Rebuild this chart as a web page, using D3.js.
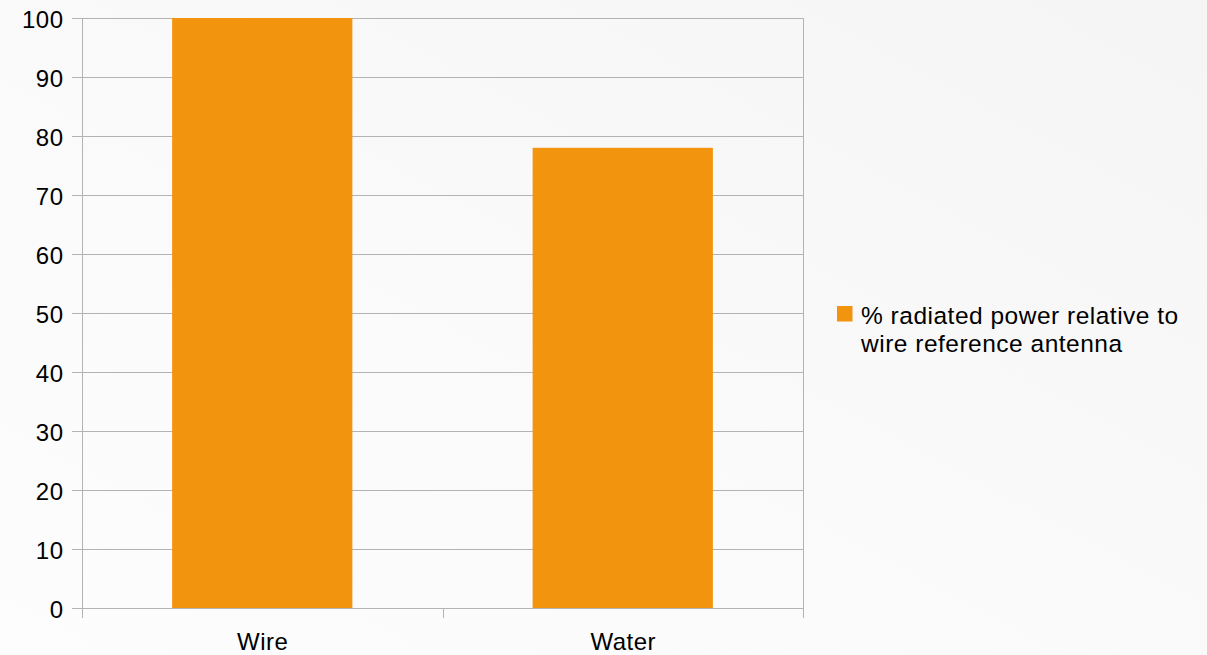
<!DOCTYPE html>
<html>
<head>
<meta charset="utf-8">
<script src="https://cdn.jsdelivr.net/npm/d3@7/dist/d3.min.js"></script>
<style>
  html, body { margin: 0; padding: 0; background: #f8f8f8; }
  svg { display: block; font-family: "Liberation Sans", Arial, sans-serif; }
  text { letter-spacing: 0.5px; }
</style>
</head>
<body>
<svg id="chart" width="1207" height="655"></svg>
<script>
// Chart data
const categories = ["Wire", "Water"];
const values = [100, 78];
const yTicks = [0, 10, 20, 30, 40, 50, 60, 70, 80, 90, 100];
const seriesName = ["% radiated power relative to", "wire reference antenna"];

const W = 1207, H = 655;
const margin = { left: 82, right: 404, top: 18, bottom: 47 };
const innerW = W - margin.left - margin.right;
const innerH = H - margin.top - margin.bottom;
const fontSize = 24;

const svg = d3.select("#chart");

// Soft background wash
const defs = svg.append("defs");
const grad = defs.append("linearGradient").attr("id", "bg")
  .attr("x1", "0%").attr("y1", "100%").attr("x2", "100%").attr("y2", "0%");
grad.append("stop").attr("offset", "0%").attr("stop-color", "#fdfdfd");
grad.append("stop").attr("offset", "45%").attr("stop-color", "#fafafa");
grad.append("stop").attr("offset", "100%").attr("stop-color", "#f5f5f5");
svg.append("rect").attr("width", W).attr("height", H).attr("fill", "url(#bg)");

const g = svg.append("g").attr("transform", `translate(${margin.left},${margin.top})`);

const x = d3.scaleBand().domain(categories).range([0, innerW]).paddingInner(0.5).paddingOuter(0.25);
const xb = d3.scaleBand().domain(categories).range([0, innerW]);
const y = d3.scaleLinear().domain([0, 100]).range([innerH, 0]);

const gridColor = "#b3b3b3";

// Horizontal gridlines
g.selectAll(".grid").data(yTicks).enter().append("line")
  .attr("x1", 0).attr("x2", innerW)
  .attr("y1", d => Math.round(y(d)) + 0.5).attr("y2", d => Math.round(y(d)) + 0.5)
  .attr("stroke", gridColor).attr("stroke-width", 1);

// Right frame edge
g.append("line").attr("x1", innerW + 0.5).attr("x2", innerW + 0.5)
  .attr("y1", 0).attr("y2", innerH).attr("stroke", gridColor);

// Bars
g.selectAll(".bar").data(categories).enter().append("rect")
  .attr("x", d => x(d)).attr("width", x.bandwidth())
  .attr("y", (d, i) => y(values[i])).attr("height", (d, i) => innerH - y(values[i]))
  .attr("fill", "#f2940e");

// Y axis
const yAxis = g.append("g").call(d3.axisLeft(y).tickValues(yTicks).tickSize(10).tickPadding(8.5).tickFormat(d3.format("d")));
yAxis.select(".domain").attr("stroke", gridColor).attr("d", `M0.5,0V${innerH}`);
yAxis.selectAll(".tick line").attr("stroke", gridColor);
yAxis.selectAll("text").attr("font-size", fontSize).attr("fill", "#000")
  .attr("dy", "0.4em").attr("font-family", "Liberation Sans, Arial, sans-serif");

// X axis
const xAxisG = g.append("g").attr("transform", `translate(0,${innerH})`);
xAxisG.append("line").attr("x1", 0).attr("x2", innerW).attr("y1", 0.5).attr("y2", 0.5).attr("stroke", gridColor);
const bounds = [0, ...categories.map(c => xb(c) + xb.bandwidth())];
xAxisG.selectAll(".xt").data(bounds).enter().append("line")
  .attr("x1", d => Math.round(d) + 0.5).attr("x2", d => Math.round(d) + 0.5)
  .attr("y1", 0).attr("y2", 10).attr("stroke", gridColor);
xAxisG.selectAll(".xl").data(categories).enter().append("text")
  .attr("x", d => xb(d) + xb.bandwidth() / 2 + 0.5).attr("y", 41.5)
  .attr("text-anchor", "middle").attr("font-size", fontSize).attr("fill", "#000")
  .text(d => d);

// Legend
const lg = svg.append("g").attr("transform", "translate(837,306)");
lg.append("rect").attr("width", 15.5).attr("height", 15.5).attr("fill", "#f2940e");
lg.selectAll("text").data(seriesName).enter().append("text")
  .attr("x", 24).attr("y", (d, i) => 17.5 + i * 28.4)
  .attr("font-size", 24.5).attr("fill", "#000").text(d => d);
</script>
</body>
</html>
